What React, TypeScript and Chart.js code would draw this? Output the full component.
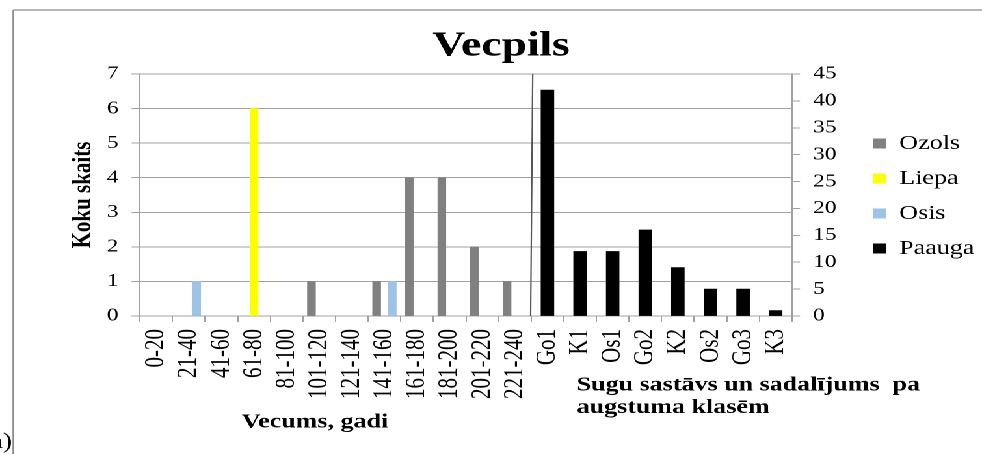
import React, { useEffect, useRef } from 'react';
import { Chart, registerables } from 'chart.js';

Chart.register(...registerables);

// ---- data ----
const CATEGORIES = [
  '0-20', '21-40', '41-60', '61-80', '81-100', '101-120', '121-140', '141-160',
  '161-180', '181-200', '201-220', '221-240',
  'Go1', 'K1', 'Os1', 'Go2', 'K2', 'Os2', 'Go3', 'K3',
];
const AGE_CLASS_COUNT = 12;

const OZOLS = [null, null, null, null, null, 1, null, 1, 4, 4, 2, 1, null, null, null, null, null, null, null, null];
const LIEPA = [null, null, null, 6, null, null, null, null, null, null, null, null, null, null, null, null, null, null, null, null];
const OSIS = [null, 1, null, null, null, null, null, 1, null, null, null, null, null, null, null, null, null, null, null, null];
const PAAUGA = [null, null, null, null, null, null, null, null, null, null, null, null, 42, 12, 12, 16, 9, 5, 5, 1];

const LEFT_MAX = 7;
const LEFT_STEP = 1;
const RIGHT_MAX = 45;
const RIGHT_STEP = 5;

const TITLE = 'Vecpils';
const Y_TITLE = 'Koku skaits';
const X_TITLE_AGE = 'Vecums, gadi';
const X_TITLE_HEIGHT = ['Sugu sastāvs un sadalījums  pa', 'augstuma klasēm'];

// ---- styling ----
const FONT = '"Liberation Serif", "Times New Roman", serif';
const GRID = '#a0a0a0';
const STRETCH_W = 755; // drawing width, stretched horizontally to 982
const STRETCH = 982 / STRETCH_W;
const LEGEND_SHIFT = -12;

const legendShift = {
  id: 'legendShift',
  afterLayout(chart: any) {
    const lg = chart.legend;
    if (lg) {
      lg.top += LEGEND_SHIFT;
      lg.bottom += LEGEND_SHIFT;
    }
  },
};

const overlay = {
  id: 'overlay',
  afterDraw(chart: any) {
    const { ctx, chartArea, scales } = chart;
    ctx.save();
    // outer frame
    ctx.strokeStyle = '#8c8c8c';
    ctx.lineWidth = 1.2;
    ctx.beginPath();
    ctx.moveTo(10.2, 10);
    ctx.lineTo(chart.width, 10);
    ctx.moveTo(10.2, 10);
    ctx.lineTo(10.2, chart.height);
    ctx.stroke();

    // separator between the two category groups
    const sx = scales.x.getPixelForValue(AGE_CLASS_COUNT - 0.5);
    ctx.strokeStyle = '#555555';
    ctx.lineWidth = 1.1;
    ctx.beginPath();
    ctx.moveTo(sx + 1.2, chartArea.top);
    ctx.lineTo(sx - 0.4, chartArea.bottom);
    ctx.stroke();

    // axis titles
    ctx.fillStyle = '#000';
    ctx.textBaseline = 'alphabetic';
    ctx.font = `bold 20px ${FONT}`;
    ctx.textAlign = 'center';
    ctx.fillText(X_TITLE_AGE, 242.2, 427.5);
    ctx.textAlign = 'left';
    ctx.fillText(X_TITLE_HEIGHT[0], 443.4, 390.5);
    ctx.fillText(X_TITLE_HEIGHT[1], 443.4, 413);

    // panel mark
    ctx.font = `22px ${FONT}`;
    ctx.textAlign = 'right';
    ctx.fillText('a)', 9.5, 448);
    ctx.restore();
  },
};

export default function App() {
  const ref = useRef<HTMLCanvasElement | null>(null);

  useEffect(() => {
    if (!ref.current) return;
    Chart.defaults.font.family = FONT;
    Chart.defaults.color = '#000';
    const chart = new Chart(ref.current, {
      type: 'bar',
      data: {
        labels: CATEGORIES,
        datasets: [
          { label: 'Ozols', data: OZOLS, backgroundColor: '#808080', borderColor: '#808080', borderWidth: 0, yAxisID: 'y', barThickness: 6 },
          { label: 'Liepa', data: LIEPA, backgroundColor: '#ffff00', borderColor: '#ffff00', borderWidth: 0, yAxisID: 'y', barThickness: 6 },
          { label: 'Osis', data: OSIS, backgroundColor: '#9dc3e6', borderColor: '#9dc3e6', borderWidth: 0, yAxisID: 'y', barThickness: 6 },
          { label: 'Paauga', data: PAAUGA, backgroundColor: '#000000', borderColor: '#000000', borderWidth: 0, yAxisID: 'y1', barThickness: 9.7, grouped: false },
        ] as any,
      },
      options: {
        animation: false,
        responsive: true,
        maintainAspectRatio: false,
        devicePixelRatio: 2,
        layout: { padding: { top: 10, left: 15.6, right: 0, bottom: 48 } },
        plugins: {
          tooltip: { enabled: false },
          title: {
            display: true,
            text: TITLE,
            color: '#000',
            font: { size: 35, weight: 'bold', family: FONT },
            padding: { top: 15.5, bottom: 6.5 },
          },
          legend: {
            position: 'right',
            maxWidth: 98.6,
            labels: {
              boxWidth: 10,
              boxHeight: 10,
              padding: 15,
              color: '#000',
              font: { size: 20, family: FONT },
            },
          },
        },
        scales: {
          x: {
            offset: true,
            grid: { offset: true, drawOnChartArea: false, drawTicks: true, tickLength: 6, color: GRID },
            border: { display: true, color: GRID },
            ticks: { autoSkip: false, minRotation: 90, maxRotation: 90, padding: 7, color: '#000', font: { size: 21 } },
            afterFit: (s: any) => { s.height = 90; },
          },
          y: {
            position: 'left',
            min: 0,
            max: LEFT_MAX,
            ticks: { stepSize: LEFT_STEP, padding: 10.1, color: '#000', font: { size: 18 } },
            grid: { color: GRID, drawTicks: true, tickLength: 6.4 },
            border: { display: true, color: GRID },
            title: {
              display: true,
              text: Y_TITLE,
              color: '#000',
              font: { size: 21, weight: 'bold' },
              padding: { top: 35.8, bottom: 0 },
            },
            afterFit: (s: any) => { s.width = 92; },
          },
          y1: {
            position: 'right',
            min: 0,
            max: RIGHT_MAX,
            ticks: { stepSize: RIGHT_STEP, padding: 10, color: '#000', font: { size: 18 } },
            grid: { drawOnChartArea: false, drawTicks: true, tickLength: 6.2, color: GRID },
            border: { display: true, color: GRID },
            afterFit: (s: any) => { s.width = 47.5; },
          },
        },
      } as any,
      plugins: [legendShift, overlay],
    });
    return () => chart.destroy();
  }, []);

  return (
    <div
      style={{
        position: 'fixed',
        left: 0,
        top: 0,
        width: STRETCH_W,
        height: 454,
        background: '#fff',
        transform: `scaleX(${STRETCH})`,
        transformOrigin: '0 0',
      }}
    >
      <canvas ref={ref} />
    </div>
  );
}
